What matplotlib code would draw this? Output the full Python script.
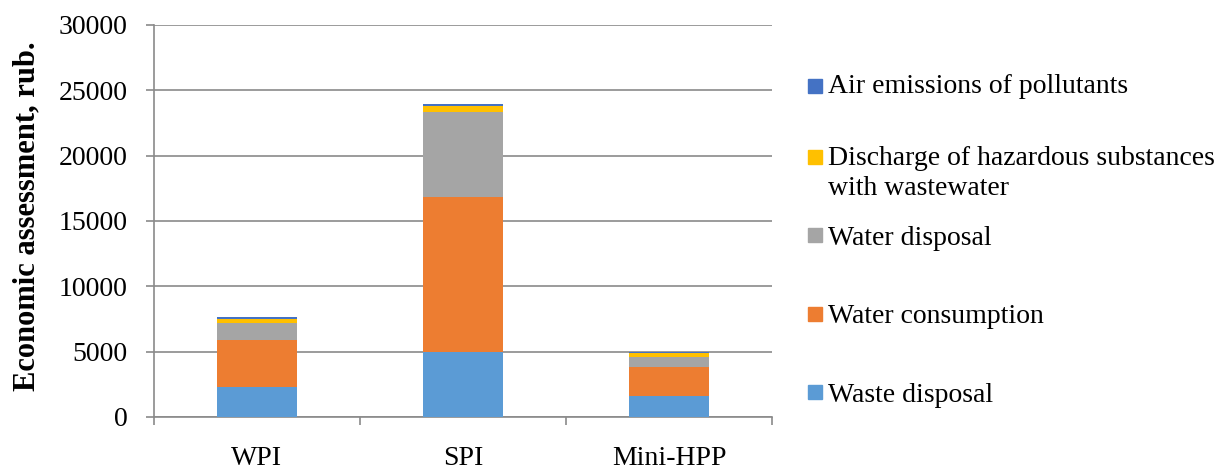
import numpy as np
from matplotlib import pyplot as plt
from matplotlib.patches import Rectangle

plt.rcParams["font.family"] = ["Liberation Serif", "DejaVu Serif"]

categories = ["WPI", "SPI", "Mini-HPP"]
series_names = [
    "Waste disposal",
    "Water consumption",
    "Water disposal",
    "Discharge of hazardous substances\nwith wastewater",
    "Air emissions of pollutants",
]
waste_disposal = [2250, 5000, 1600]
water_consumption = [3630, 11800, 2240]
water_disposal = [1270, 6500, 720]
discharge = [380, 520, 330]
air_emissions = [120, 150, 110]
colors = ["#5B9BD5", "#ED7D31", "#A5A5A5", "#FFC000", "#4472C4"]

series = [waste_disposal, water_consumption, water_disposal, discharge, air_emissions]

fig = plt.figure(figsize=(12.2, 4.7), dpi=100)
ax = fig.add_axes([0.126, 0.113, 0.507, 0.834])

x = np.arange(len(categories))
bottom = np.zeros(len(categories))
for vals, col in zip(series, colors):
    ax.bar(x, vals, width=0.39, bottom=bottom, color=col, zorder=3)
    bottom += np.array(vals)

ax.set_ylim(0, 30000)
ax.set_xlim(-0.5, 2.5)
ax.set_yticks(np.arange(0, 30001, 5000))
ax.yaxis.grid(True, color="#8a8a8a", linewidth=1.2, zorder=0)
ax.set_xticks(x)
ax.set_xticklabels(categories)
ax.set_xticks([-0.5, 0.5, 1.5, 2.5], minor=True)
ax.tick_params(axis="x", which="major", length=0, pad=21, labelsize=20)
ax.tick_params(axis="x", which="minor", length=6, color="#8a8a8a", width=1.2)
ax.tick_params(axis="y", length=6, color="#8a8a8a", width=1.2, pad=13, labelsize=20)
for s in ["top", "right"]:
    ax.spines[s].set_visible(False)
for s in ["left", "bottom"]:
    ax.spines[s].set_color("#8a8a8a")
    ax.spines[s].set_linewidth(1.2)

W = 1220.0
H = 470.0
fig.text(27 / W, 1 - 216 / H, "Economic assessment, rub.", rotation=90,
         ha="center", va="center", fontsize=22, fontweight="bold")

# legend drawn by hand to follow the original spacing
entries = [
    (4, 86, 93),
    (3, 157, 165),
    (2, 235, 245),
    (1, 314, 323),
    (0, 392, 402),
]
for idx, sq_y, base_y in entries:
    fig.patches.append(
        Rectangle(
            (808 / W, 1 - (sq_y + 7) / H),
            14 / W,
            14 / H,
            transform=fig.transFigure,
            color=colors[idx],
        )
    )
    lines = series_names[idx].split("\n")
    for k, line in enumerate(lines):
        fig.text(
            828 / W,
            1 - (base_y + 30 * k) / H,
            line,
            fontsize=20,
            va="baseline",
            ha="left",
        )

fig.savefig("out.png", dpi=100)
